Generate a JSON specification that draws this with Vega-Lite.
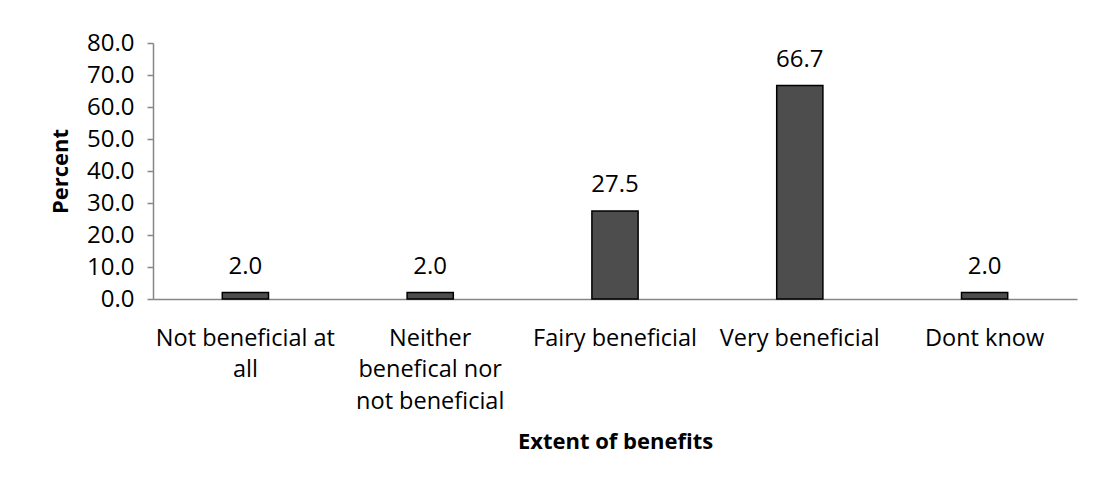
{
  "$schema": "https://vega.github.io/schema/vega-lite/v6.json",
  "autosize": "none",
  "width": 924,
  "height": 256,
  "padding": {"left": 153, "top": 43, "right": 17, "bottom": 183},
  "background": "white",
  "config": {
    "view": {"stroke": null},
    "font": "Open Sans",
    "axis": {"grid": false, "domainColor": "#868686", "tickColor": "#868686", "labelColor": "#000000", "titleColor": "#000000", "labelFont": "Open Sans", "titleFont": "Open Sans"}
  },
  "data": {
    "values": [
      {"category": "Not beneficial at all", "percent": 2.0},
      {"category": "Neither benefical nor not beneficial", "percent": 2.0},
      {"category": "Fairy beneficial", "percent": 27.5},
      {"category": "Very beneficial", "percent": 66.7},
      {"category": "Dont know", "percent": 2.0}
    ]
  },
  "encoding": {
    "x": {
      "field": "category",
      "type": "nominal",
      "sort": null,
      "scale": {"paddingInner": 0, "paddingOuter": 0},
      "axis": {
        "title": "Extent of benefits",
        "titleFontSize": 22,
        "titleFontWeight": "bold",
        "titlePadding": 19,
        "labelAngle": 0,
        "labelFontSize": 23.5,
        "labelLineHeight": 31.5,
        "labelPadding": 39,
        "labelBaseline": "middle",
        "ticks": false,
        "domainWidth": 1.5,
        "labelExpr": "datum.label == 'Not beneficial at all' ? ['Not beneficial at', 'all'] : datum.label == 'Neither benefical nor not beneficial' ? ['Neither', 'benefical nor', 'not beneficial'] : datum.label"
      }
    },
    "y": {
      "field": "percent",
      "type": "quantitative",
      "scale": {"domain": [0, 80], "nice": false},
      "axis": {
        "title": "Percent",
        "titleFontSize": 22,
        "titleFontWeight": "bold",
        "titlePadding": 14,
        "values": [0, 10, 20, 30, 40, 50, 60, 70, 80],
        "format": ".1f",
        "labelFontSize": 24,
        "labelPadding": 13,
        "tickSize": 6,
        "domainWidth": 1.5,
        "tickWidth": 1.5
      }
    }
  },
  "layer": [
    {
      "mark": {"type": "bar", "width": {"band": 0.25}, "fill": "#4d4d4d", "stroke": "#000000", "strokeWidth": 1.5}
    },
    {
      "mark": {"type": "text", "baseline": "middle", "dy": -26, "fontSize": 24, "color": "#000000"},
      "encoding": {"text": {"field": "percent", "type": "quantitative", "format": ".1f"}}
    }
  ]
}
